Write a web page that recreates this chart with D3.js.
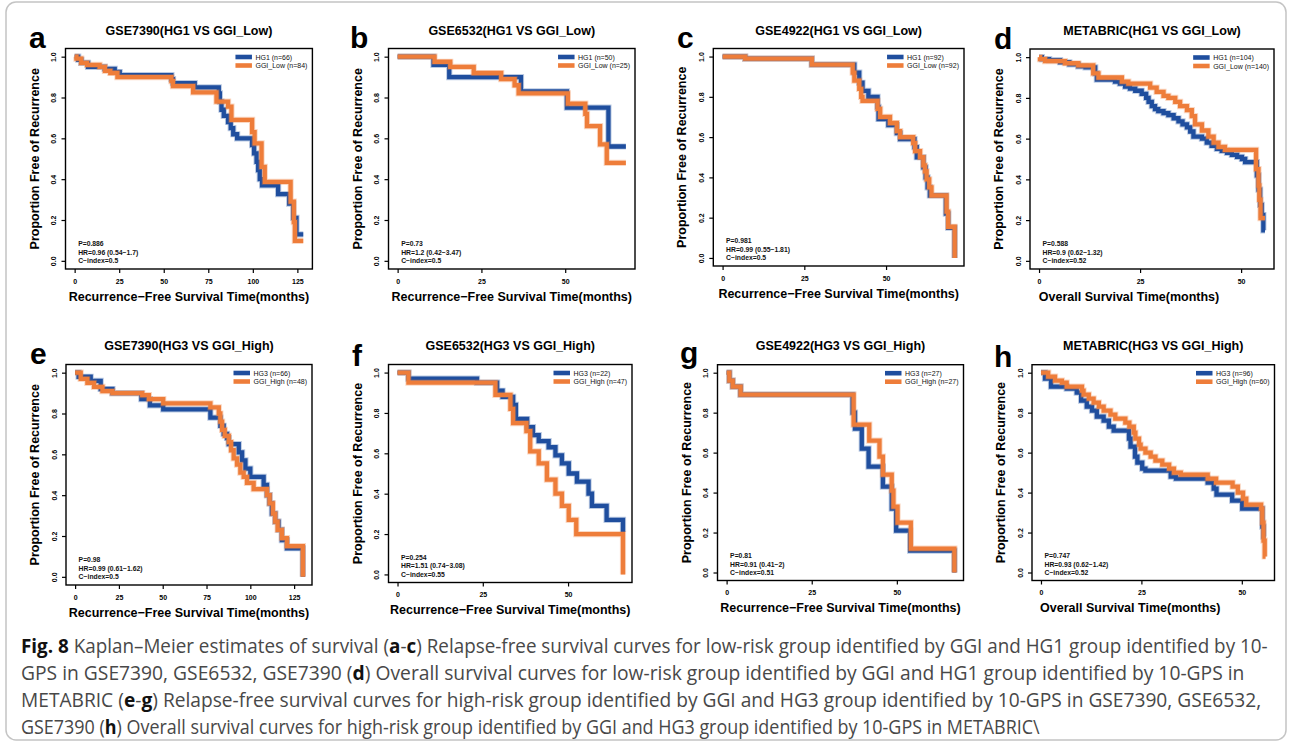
<!DOCTYPE html>
<html><head><meta charset="utf-8">
<script src="https://cdn.jsdelivr.net/npm/d3@7"></script>
<style>body{margin:0;background:#fff} svg{display:block}</style>
</head><body><svg id="c" width="1290" height="743"></svg>
<script>
// ---------------- DATA ----------------
const panelLetters = ["a","b","c","d","e","f","g","h"];
const panelTitles = ["GSE7390(HG1 VS GGI_Low)","GSE6532(HG1 VS GGI_Low)","GSE4922(HG1 VS GGI_Low)","METABRIC(HG1 VS GGI_Low)",
  "GSE7390(HG3 VS GGI_High)","GSE6532(HG3 VS GGI_High)","GSE4922(HG3 VS GGI_High)","METABRIC(HG3 VS GGI_High)"];
const rfsTitle = "Recurrence\u2212Free Survival Time(months)";
const osTitle = "Overall  Survival Time(months)";
const xAxisTitles = [rfsTitle, rfsTitle, rfsTitle, osTitle, rfsTitle, rfsTitle, rfsTitle, osTitle];
const yAxisTitle = "Proportion Free of Recurrence";
const blueLabels = ["HG1 (n=66)","HG1 (n=50)","HG1 (n=92)","HG1 (n=104)","HG3 (n=66)","HG3 (n=22)","HG3 (n=27)","HG3 (n=96)"];
const orangeLabels = ["GGI_Low (n=84)","GGI_Low (n=25)","GGI_Low (n=92)","GGI_Low (n=140)","GGI_High (n=48)","GGI_High (n=47)","GGI_High (n=27)","GGI_High (n=60)"];
const pValues = ["P=0.886","P=0.73","P=0.981","P=0.588","P=0.98","P=0.254","P=0.81","P=0.747"];
const hrTexts = ["HR=0.96 (0.54\u22121.7)","HR=1.2 (0.42\u22123.47)","HR=0.99 (0.55\u22121.81)","HR=0.9 (0.62\u22121.32)",
  "HR=0.99 (0.61\u22121.62)","HR=1.51 (0.74\u22123.08)","HR=0.91 (0.41\u22122)","HR=0.93 (0.62\u22121.42)"];
const cIndexTexts = ["C\u2212index=0.5","C\u2212index=0.5","C\u2212index=0.5","C\u2212index=0.52","C\u2212index=0.5","C\u2212index=0.55","C\u2212index=0.51","C\u2212index=0.52"];
const xTickValues = [[0,25,50,75,100,125],[0,25,50],[0,25,50],[0,25,50],[0,25,50,75,100,125],[0,25,50],[0,25,50],[0,25,50]];
const yTickValues = [0,0.2,0.4,0.6,0.8,1.0];
const followUpMax = [128.3,68.1,71,55.9,130,66.1,66.9,55.9];

// [time (months), survival proportion] at each step
const aBlue = [[0,1],[2,0.985],[3.7,0.97],[7.5,0.95],[16.9,0.94],[22.5,0.925],[25.3,0.91],[54.3,0.89],[55.2,0.87],[67.4,0.85],[80.9,0.82],[81.5,0.78],[82.4,0.74],[83.7,0.71],[86.1,0.68],[87.6,0.65],[89,0.62],[91.2,0.60],[99.6,0.567],[100.7,0.526],[102.1,0.485],[103,0.444],[103.9,0.40],[105.2,0.37],[114.2,0.327],[120.4,0.28],[122.7,0.21],[124.5,0.13]];
const aOrange = [[0,1],[1,0.99],[3.7,0.97],[7,0.96],[14,0.95],[17,0.93],[20,0.92],[24,0.90],[54.3,0.88],[55.2,0.856],[66.5,0.825],[79.6,0.78],[86.1,0.755],[88,0.69],[99.6,0.63],[101,0.575],[104.9,0.46],[106.7,0.387],[121.2,0.29],[123,0.19],[123.6,0.098]];
const bBlue = [[0,1],[10.7,0.96],[15.4,0.90],[36.8,0.83],[50.5,0.75],[62.9,0.56]];
const bOrange = [[0,1],[11,0.975],[15.7,0.95],[22.7,0.92],[30.9,0.89],[34.9,0.86],[36.1,0.82],[50.8,0.77],[56,0.72],[56.5,0.66],[60.4,0.57],[62.4,0.48]];
const cBlue = [[0,1],[6.9,0.99],[27.3,0.96],[40.3,0.92],[41.8,0.87],[42.8,0.83],[44.6,0.80],[47.4,0.75],[47.7,0.69],[50.7,0.66],[53.3,0.62],[54.3,0.59],[58.7,0.55],[59.4,0.50],[61.4,0.45],[62.1,0.40],[62.7,0.35],[63.4,0.31],[68.3,0.22],[69,0.15],[71,0]];
const cOrange = [[0,1],[6.9,0.99],[27.3,0.96],[39.8,0.92],[40.3,0.88],[41.8,0.84],[42.4,0.80],[42.8,0.78],[47.4,0.74],[48.2,0.70],[51.2,0.67],[53.3,0.63],[54.3,0.60],[58.3,0.57],[58.9,0.53],[60.4,0.50],[61.4,0.46],[61.9,0.43],[62.4,0.39],[63.2,0.35],[63.9,0.31],[68.5,0.23],[69,0.155],[71,0]];
const dBlue = [[0,1],[0.7,0.99],[2.5,0.985],[5.2,0.975],[7.5,0.965],[9.7,0.955],[11.5,0.95],[13.9,0.92],[14.3,0.89],[18.8,0.88],[20,0.87],[21.3,0.855],[22.5,0.845],[23.8,0.835],[25.4,0.82],[26.5,0.80],[27.1,0.78],[27.9,0.76],[28.7,0.745],[29.5,0.735],[30.8,0.725],[32,0.715],[33.3,0.70],[34.5,0.685],[35.5,0.67],[36.6,0.655],[37.4,0.635],[38.2,0.61],[40.3,0.60],[41.5,0.58],[42.7,0.565],[44,0.55],[45.2,0.54],[46.5,0.53],[47.7,0.52],[49,0.51],[50.2,0.50],[51,0.485],[53.9,0.42],[54.3,0.35],[54.7,0.275],[55.1,0.225],[55.5,0.15]];
const dOrange = [[0,1],[0.25,0.99],[1.5,0.98],[6.4,0.97],[9.7,0.96],[13.4,0.92],[14.7,0.90],[20.5,0.88],[22.1,0.87],[27.5,0.85],[29.1,0.83],[30.8,0.81],[32,0.80],[33.7,0.78],[34.9,0.76],[36.6,0.74],[37.8,0.71],[38.6,0.67],[40.3,0.64],[41.9,0.61],[43.2,0.58],[44.4,0.56],[46,0.545],[53.7,0.45],[54.3,0.37],[54.5,0.30],[54.8,0.21]];
const eBlue = [[0,1],[2,0.98],[8.9,0.96],[14.6,0.92],[21.3,0.90],[37.8,0.87],[42.7,0.84],[50.3,0.82],[77.2,0.78],[82.9,0.74],[84.8,0.70],[86.7,0.68],[87.7,0.65],[93.4,0.61],[95.3,0.57],[97.2,0.53],[100,0.49],[107.6,0.45],[109.5,0.40],[111,0.36],[112.3,0.31],[114.2,0.27],[116.1,0.23],[118,0.18],[120.9,0.14],[130,0]];
const eOrange = [[0,1],[3.2,0.97],[7,0.95],[10.8,0.93],[15.6,0.91],[21.3,0.90],[38.3,0.89],[42.1,0.87],[50.3,0.85],[77.2,0.83],[82,0.80],[82.9,0.76],[83.9,0.72],[85.4,0.69],[87.7,0.66],[89,0.62],[90.5,0.58],[92.4,0.55],[94.3,0.51],[96.2,0.49],[98.1,0.46],[101.9,0.43],[109.5,0.40],[111,0.36],[112.9,0.31],[114.2,0.27],[115.6,0.23],[118,0.19],[120.9,0.15],[130,0]];
const fBlue = [[0,1],[3.2,0.97],[23.3,0.95],[29.2,0.91],[30.8,0.88],[33.9,0.84],[34.7,0.77],[38,0.73],[39.7,0.69],[41.4,0.66],[44.3,0.63],[46.3,0.59],[48.2,0.55],[50.2,0.50],[52.6,0.46],[56,0.40],[57,0.34],[61.3,0.27],[66.1,0.21]];
const fOrange = [[0,1],[3.2,0.95],[28.7,0.89],[33.1,0.82],[33.9,0.75],[37.8,0.71],[38.9,0.61],[41.4,0.55],[43.8,0.47],[46.3,0.40],[48.2,0.34],[50.2,0.27],[52.4,0.20],[66.1,0]];
const gBlue = [[0,1],[0.8,0.96],[1.8,0.93],[4.1,0.89],[37,0.80],[37.7,0.72],[39.7,0.62],[41.7,0.53],[45.9,0.43],[48.5,0.32],[49.8,0.21],[53.9,0.11],[66.9,0]];
const gOrange = [[0,1],[0.8,0.96],[1.8,0.93],[4.1,0.89],[37.3,0.74],[41.9,0.66],[44.9,0.58],[45.9,0.49],[48.5,0.41],[49,0.33],[50.2,0.25],[54.1,0.12],[66.9,0]];
const hBlue = [[0,1],[1,0.97],[2.5,0.93],[6.4,0.92],[8.9,0.90],[10,0.86],[11.4,0.83],[12.7,0.81],[13.9,0.78],[15.6,0.76],[16.9,0.73],[18.1,0.71],[21.9,0.67],[22.3,0.63],[23.4,0.58],[24,0.55],[25.2,0.52],[26,0.51],[32.3,0.48],[33.6,0.47],[41.5,0.45],[43,0.42],[43.7,0.39],[47.6,0.36],[50.1,0.32],[55.1,0.23],[55.4,0.18]];
const hOrange = [[0,1],[1.8,0.98],[3.5,0.96],[5.2,0.95],[6.4,0.93],[10.2,0.91],[10.6,0.89],[11.9,0.87],[13.1,0.85],[14.4,0.83],[15.6,0.81],[17.3,0.79],[18.5,0.77],[21,0.75],[22,0.73],[23.1,0.70],[23.5,0.67],[24.4,0.64],[24.8,0.62],[26,0.60],[27.3,0.58],[28.5,0.56],[30.2,0.54],[31.9,0.52],[33.1,0.50],[34.8,0.49],[41.5,0.47],[43.6,0.45],[47.7,0.43],[49,0.40],[50.3,0.37],[51.1,0.34],[54.8,0.32],[55.1,0.25],[55.4,0.16],[55.7,0.08]];
const blueSeries = [aBlue,bBlue,cBlue,dBlue,eBlue,fBlue,gBlue,hBlue];
const orangeSeries = [aOrange,bOrange,cOrange,dOrange,eOrange,fOrange,gOrange,hOrange];

const captionLines = [
  [["Fig. 8",1],[" Kaplan\u2013Meier estimates of survival (",0],["a",1],["-",0],["c",1],[") Relapse-free survival curves for low-risk group identified by GGI and HG1 group identified by 10-",0]],
  [["GPS in GSE7390, GSE6532, GSE7390 (",0],["d",1],[") Overall survival curves for low-risk group identified by GGI and HG1 group identified by 10-GPS in",0]],
  [["METABRIC (",0],["e",1],["-",0],["g",1],[") Relapse-free survival curves for high-risk group identified by GGI and HG3 group identified by 10-GPS in GSE7390, GSE6532,",0]],
  [["GSE7390 (",0],["h",1],[") Overall survival curves for high-risk group identified by GGI and HG3 group identified by 10-GPS in METABRIC\\",0]]
];

// ---------------- LAYOUT ----------------
const boxes = [
  {L:65.5,R:312.4,T:48.5,B:269},{L:388.5,R:635,T:48.5,B:269},{L:713.3,R:964,T:48.5,B:266},{L:1030,R:1274,T:49,B:269},
  {L:66,R:312,T:364.5,B:585},{L:388.5,R:632,T:364.5,B:582.5},{L:717.5,R:963.5,T:364.7,B:580.5},{L:1032,R:1274.5,T:364.7,B:580.5}];
const letterPos = [[29,48],[350,48],[677,48],[994,49],[30,364],[352,366],[680,363],[994,367]];
const titleBase = [34.5,34.5,34.5,34.5,350,350,350,350];
const xTitleShift = [0,0,0,-23,0,0,0,-23];
const captionY = [653,680,707,734];
const captionX = 21;
const captionWidths = [1247,1224,1241,1019];
const BLUE = "#1f4e9e", ORANGE = "#ee7d3a";
const FONT = "Liberation Sans, Arial, sans-serif";

const svg = d3.select("#c");
svg.append("rect").attr("x",6).attr("y",2).attr("width",1280).attr("height",738).attr("rx",10)
  .attr("fill","none").attr("stroke","#c4c4c4").attr("stroke-width",1.5);

panelLetters.forEach((letter,i)=>{
  const b = boxes[i];
  const mx = followUpMax[i];
  const x = d3.scaleLinear().domain([-0.04*mx, 1.04*mx]).range([b.L,b.R]);
  const y = d3.scaleLinear().domain([-0.04,1.04]).range([b.B,b.T]);
  const g = svg.append("g").attr("font-family",FONT);

  g.append("text").attr("x",letterPos[i][0]).attr("y",letterPos[i][1]).attr("font-size",30).attr("font-weight","bold").attr("fill","#000").text(letter);
  g.append("text").attr("x",(b.L+b.R)/2).attr("y",titleBase[i]).attr("text-anchor","middle").attr("font-size",12.5).attr("font-weight","bold").text(panelTitles[i]);

  const line = d3.line().x(d=>x(d[0])).y(d=>y(d[1])).curve(d3.curveStepAfter);
  [[blueSeries[i],BLUE],[orangeSeries[i],ORANGE]].forEach(([s,col])=>{
    const pts = s.slice();
    const last = pts[pts.length-1];
    if (last[0] < mx) pts.push([mx,last[1]]);
    g.append("path").attr("d",line(pts)).attr("fill","none").attr("stroke",col).attr("stroke-opacity",0.3).attr("stroke-width",6.2);
    g.append("path").attr("d",line(pts)).attr("fill","none").attr("stroke",col).attr("stroke-width",4.3);
  });

  g.append("rect").attr("x",b.L).attr("y",b.T).attr("width",b.R-b.L).attr("height",b.B-b.T).attr("fill","none").attr("stroke","#000").attr("stroke-width",1.4);

  const xa = g.append("g").attr("transform",`translate(0,${b.B})`)
    .call(d3.axisBottom(x).tickValues(xTickValues[i]).tickSize(4).tickPadding(6).tickFormat(d3.format("d")));
  xa.select(".domain").remove();
  xa.selectAll("line").attr("stroke","#000").attr("stroke-width",1.2);
  xa.selectAll("text").attr("font-size",7).attr("font-weight","bold").attr("font-family",FONT).attr("fill","#000");

  const ya = g.append("g").attr("transform",`translate(${b.L},0)`)
    .call(d3.axisLeft(y).tickValues(yTickValues).tickSize(4).tickFormat(d3.format(".1f")));
  ya.select(".domain").remove();
  ya.selectAll("line").attr("stroke","#000").attr("stroke-width",1.2);
  ya.selectAll("text").attr("font-size",7).attr("font-weight","bold").attr("font-family",FONT).attr("fill","#000")
    .attr("x",null).attr("dy",null).attr("text-anchor","middle").attr("dominant-baseline","central")
    .attr("transform","translate(-12,0) rotate(-90)");

  g.append("text").attr("x",(b.L+b.R)/2 + xTitleShift[i]).attr("y",b.B+31.5).attr("text-anchor","middle")
    .attr("font-size",12.5).attr("font-weight","bold").text(xAxisTitles[i]);
  g.append("text").attr("transform",`translate(${b.L-31},${(b.T+b.B)/2}) rotate(-90)`).attr("text-anchor","middle")
    .attr("dominant-baseline","central").attr("font-size",12.5).attr("font-weight","bold").text(yAxisTitle);

  [pValues[i],hrTexts[i],cIndexTexts[i]].forEach((t,k)=>{
    g.append("text").attr("x",x(0)+3.5).attr("y",y(0)-17+8.5*k).attr("dominant-baseline","central")
      .attr("font-size",6.8).attr("font-weight","bold").attr("fill","#111").text(t);
  });

  const lg = g.append("g");
  const t1 = lg.append("text").attr("font-size",7).attr("fill","#111").attr("dominant-baseline","central").text(blueLabels[i]);
  const t2 = lg.append("text").attr("font-size",7).attr("fill","#111").attr("dominant-baseline","central").text(orangeLabels[i]);
  const w = Math.max(t1.node().getComputedTextLength(), t2.node().getComputedTextLength());
  const tx = b.R - 5 - w;
  [[t1,BLUE,b.T+8.5],[t2,ORANGE,b.T+17]].forEach(([t,col,yy])=>{
    t.attr("x",tx).attr("y",yy);
    lg.append("line").attr("x1",tx-20).attr("x2",tx-3.5).attr("y1",yy).attr("y2",yy).attr("stroke",col).attr("stroke-width",4.6);
  });
});

// caption: each segment its own text, the line horizontally condensed to its width
captionLines.forEach((segs,li)=>{
  const grp = svg.append("g").attr("font-family","Open Sans, sans-serif").attr("font-size",20);
  let cx = 0;
  const nodes = segs.map(([s,bold])=>{
    const t = grp.append("text").attr("x",cx).attr("y",0).attr("fill",bold?"#111":"#484848")
      .attr("font-weight",bold?"bold":"normal").text(s);
    t.attr("xml:space","preserve").style("white-space","pre");
    const wd = t.node().getComputedTextLength();
    cx += wd;
    return [t,wd];
  });
  let acc = 0;
  nodes.forEach(([t,wd])=>{ t.attr("x",acc); acc += wd; });
  const k = captionWidths[li]/acc;
  grp.attr("transform",`translate(${captionX},${captionY[li]}) scale(${k},1)`);
});
</script>
</body></html>
